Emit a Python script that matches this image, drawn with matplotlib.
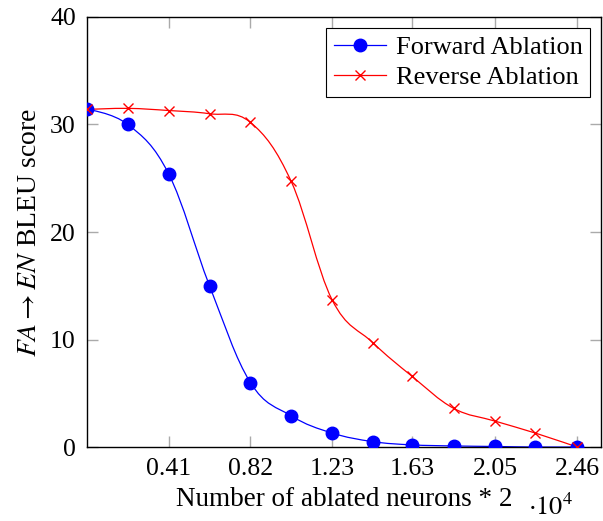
import numpy as np
import matplotlib
matplotlib.use("Agg")
import matplotlib.pyplot as plt
from matplotlib.path import Path
from matplotlib.patches import PathPatch
from matplotlib.lines import Line2D

plt.rcParams['font.family'] = ['Liberation Serif', 'DejaVu Serif']
plt.rcParams['mathtext.fontset'] = 'stix'

x_vals = [0, 0.205, 0.41, 0.615, 0.82, 1.025, 1.23, 1.435, 1.63, 1.84, 2.05, 2.25, 2.46]
forward = [31.4, 30.0, 25.4, 15.0, 6.0, 2.9, 1.3, 0.5, 0.2, 0.1, 0.05, 0.0, 0.0]
reverse = [31.4, 31.5, 31.3, 31.0, 30.2, 24.7, 13.7, 9.7, 6.6, 3.6, 2.4, 1.3, 0.0]
xtick_vals = [0.41, 0.82, 1.23, 1.63, 2.05, 2.46]
ytick_vals = [0, 10, 20, 30, 40]


def smooth_path(xs, ys, tension=0.55):
    p = np.column_stack([xs, ys]).astype(float)
    n = len(p)
    t = tension / 3.0
    verts = [p[0]]
    codes = [Path.MOVETO]
    for i in range(n - 1):
        prev = p[i - 1] if i > 0 else p[i]
        nxt2 = p[i + 2] if i + 2 < n else p[i + 1]
        c1 = p[i] + t * (p[i + 1] - prev) if i > 0 else p[i]
        c2 = p[i + 1] - t * (nxt2 - p[i]) if i + 2 < n else p[i + 1]
        verts += [c1, c2, p[i + 1]]
        codes += [Path.CURVE4] * 3
    return Path(verts, codes)


fig = plt.figure(figsize=(6.03, 5.21), dpi=100)
ax = fig.add_axes([0.1443, 0.142, 0.8524, 0.8254])

for ys, col in [(forward, 'blue'), (reverse, 'red')]:
    ax.add_patch(PathPatch(smooth_path(x_vals, ys), facecolor='none', edgecolor=col, lw=0.9, zorder=2))

ax.plot(x_vals, forward, linestyle='none', marker='o', ms=9, color='blue', zorder=3)
ax.plot(x_vals, reverse, linestyle='none', marker='x', ms=7, mew=1.0, color='red', zorder=4)

ax.set_xlim(0, 2.58)
ax.set_ylim(0, 40)
ax.set_xticks(xtick_vals)
ax.set_xticklabels([f"{v:.2f}" for v in xtick_vals])
ax.set_yticks(ytick_vals)
ax.tick_params(direction='in', length=8, width=1, color='#aaaaaa', labelsize=18.5,
               top=True, right=True, pad=8)
for s in ax.spines.values():
    s.set_linewidth(1.0)

ax.set_xlabel('Number of ablated neurons * 2', fontsize=19.5, labelpad=5)
ax.set_ylabel(r'$FA \rightarrow EN$ BLEU score', fontsize=20, labelpad=6)
fig.text(0.875, 0.002, r'$\cdot10^4$', fontsize=19, ha='left', va='bottom')

handles = [Line2D([], [], color='blue', marker='o', ms=9, lw=0.9),
           Line2D([], [], color='red', marker='x', ms=7, lw=0.9)]
leg = ax.legend(handles, ['Forward Ablation', 'Reverse Ablation'], loc='upper right',
                fontsize=19, frameon=True, fancybox=False, framealpha=1,
                edgecolor='black', borderaxespad=0.4, handlelength=2.0,
                handletextpad=0.35, borderpad=0.3, labelspacing=0.25)
leg.get_frame().set_linewidth(0.8)

fig.savefig('out.png', dpi=100)
